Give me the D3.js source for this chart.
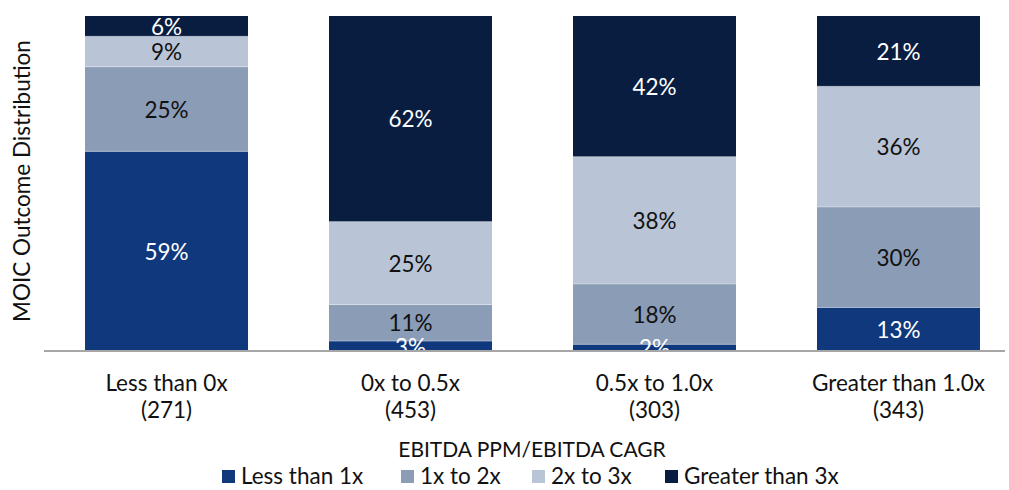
<!DOCTYPE html>
<html>
<head>
<meta charset="utf-8">
<script src="https://cdn.jsdelivr.net/npm/d3@7"></script>
<style>
  html, body { margin: 0; padding: 0; background: #fff; }
  svg { display: block; font-family: Lato, "Noto Sans", sans-serif; }
</style>
</head>
<body>
<svg id="chart" width="1009" height="490"></svg>
<script>
// EBITDA PPM / EBITDA CAGR buckets and deal counts
const categories = ["Less than 0x", "0x to 0.5x", "0.5x to 1.0x", "Greater than 1.0x"];
const counts = ["(271)", "(453)", "(303)", "(343)"];

// MOIC outcome series (percent of deals in each bucket)
const seriesNames = ["Less than 1x", "1x to 2x", "2x to 3x", "Greater than 3x"];
const lessThan1x = [59, 3, 2, 13];
const oneTo2x = [25, 11, 18, 30];
const twoTo3x = [9, 25, 38, 36];
const greaterThan3x = [6, 62, 42, 21];

const colors = ["#0f387d", "#8b9cb7", "#b9c5d6", "#091d40"];
const labelColors = ["#ffffff", "#111111", "#111111", "#ffffff"];

const table = categories.map((c, i) => ({
  cat: c,
  "Less than 1x": lessThan1x[i],
  "1x to 2x": oneTo2x[i],
  "2x to 3x": twoTo3x[i],
  "Greater than 3x": greaterThan3x[i]
}));

const FS = 22.5;
const svg = d3.select("#chart");

const x = d3.scaleBand()
  .domain(categories)
  .range([44.5, 1020.5])
  .paddingInner(0.332)
  .paddingOuter(0.166);

const y = d3.scaleLinear().domain([0, 1]).range([351, 16]);

const stack = d3.stack().keys(seriesNames).offset(d3.stackOffsetExpand);
const layers = stack(table);

const g = svg.append("g");

layers.forEach((layer, li) => {
  g.append("g").selectAll("rect")
    .data(layer)
    .join("rect")
    .attr("x", d => x(d.data.cat))
    .attr("width", x.bandwidth())
    .attr("y", d => y(d[1]))
    .attr("height", d => y(d[0]) - y(d[1]))
    .attr("fill", colors[li]);
});

// thin separators between segments
layers.forEach((layer, li) => {
  if (li === 0) return;
  g.append("g").selectAll("line")
    .data(layer)
    .join("line")
    .attr("x1", d => x(d.data.cat))
    .attr("x2", d => x(d.data.cat) + x.bandwidth())
    .attr("y1", d => y(d[0]))
    .attr("y2", d => y(d[0]))
    .attr("stroke", "#ffffff")
    .attr("stroke-opacity", 0.35)
    .attr("stroke-width", 1);
});

// value labels
layers.forEach((layer, li) => {
  g.append("g").selectAll("text")
    .data(layer)
    .join("text")
    .attr("x", d => x(d.data.cat) + x.bandwidth() / 2)
    .attr("y", d => (y(d[0]) + y(d[1])) / 2)
    .attr("text-anchor", "middle")
    .attr("dominant-baseline", "central")
    .attr("font-size", FS)
    .attr("fill", labelColors[li])
    .text(d => d.data[layer.key] + "%");
});

// cover for labels spilling below the baseline
svg.append("rect")
  .attr("x", 0).attr("y", 352).attr("width", 1009).attr("height", 20)
  .attr("fill", "#fff");

// baseline
svg.append("line")
  .attr("x1", 44).attr("x2", 1005)
  .attr("y1", 351).attr("y2", 351)
  .attr("stroke", "#a6a6a6")
  .attr("stroke-width", 2);

// category labels
const xAxis = svg.append("g");
categories.forEach((c, i) => {
  const cx = x(c) + x.bandwidth() / 2;
  const t = xAxis.append("text")
    .attr("x", cx)
    .attr("text-anchor", "middle")
    .attr("font-size", FS)
    .attr("fill", "#111");
  t.append("tspan").attr("x", cx).attr("y", 391).text(c);
  t.append("tspan").attr("x", cx).attr("y", 418).text(counts[i]);
});

// axis titles
svg.append("text")
  .attr("x", 532).attr("y", 457)
  .attr("text-anchor", "middle")
  .attr("font-size", 21)
  .attr("fill", "#111")
  .text("EBITDA PPM/EBITDA CAGR");

svg.append("text")
  .attr("transform", "translate(30,181) rotate(-90)")
  .attr("text-anchor", "middle")
  .attr("font-size", FS)
  .attr("fill", "#111")
  .text("MOIC Outcome Distribution");

// legend
const legendX = [222, 401, 532, 665];
const legend = svg.append("g");
seriesNames.forEach((s, i) => {
  legend.append("rect")
    .attr("x", legendX[i]).attr("y", 470)
    .attr("width", 13).attr("height", 13)
    .attr("fill", colors[i]);
  legend.append("text")
    .attr("x", legendX[i] + 19).attr("y", 484)
    .attr("font-size", FS)
    .attr("fill", "#111")
    .text(s);
});
</script>
</body>
</html>
